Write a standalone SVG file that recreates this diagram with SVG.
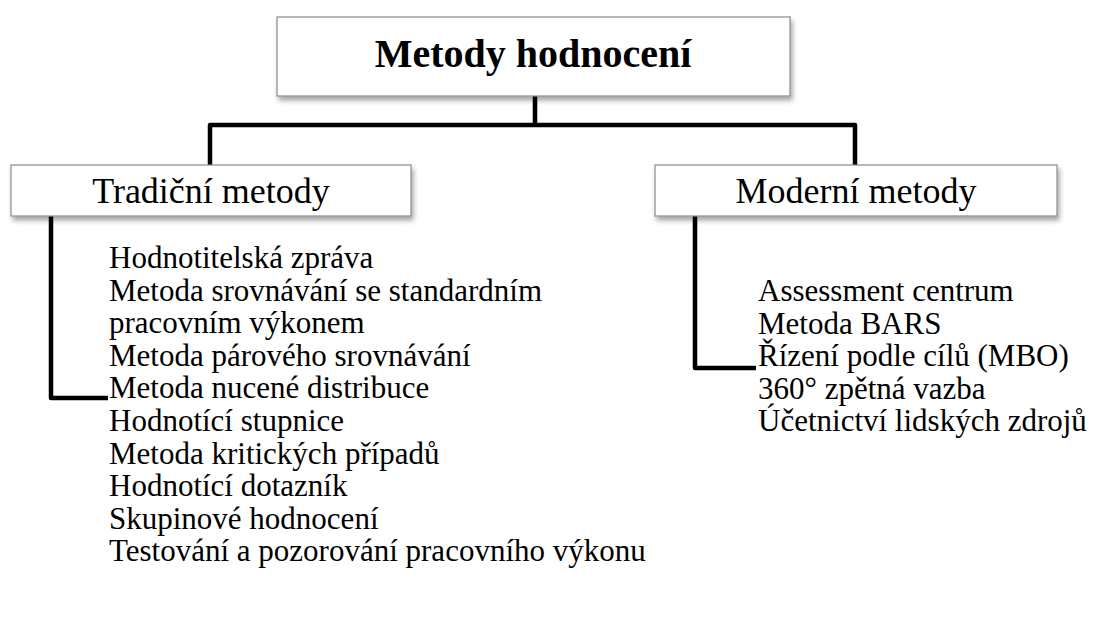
<svg xmlns="http://www.w3.org/2000/svg" width="1099" height="633" viewBox="0 0 1099 633">
  <defs>
    <filter id="shadow" x="-5%" y="-20%" width="115%" height="160%">
      <feDropShadow dx="2" dy="4" stdDeviation="2.5" flood-color="#000" flood-opacity="0.35"/>
    </filter>
    <style>
      .box { fill: #fff; stroke: #8a8a8a; stroke-width: 1.2; filter: url(#shadow); }
      .title { font-family: "Liberation Serif", "Times New Roman", serif; font-weight: bold; font-size: 40px; fill: #000; text-anchor: middle; }
      .head { font-family: "Liberation Serif", "Times New Roman", serif; font-size: 36px; fill: #000; text-anchor: middle; }
      .item { font-family: "Liberation Serif", "Times New Roman", serif; font-size: 31px; fill: #000; }
      .link { fill: none; stroke: #000; stroke-width: 4.5; stroke-linejoin: round; stroke-linecap: butt; }
    </style>
  </defs>

  <rect width="1099" height="633" fill="#fff"/>

  <!-- connectors -->
  <g id="connectors">
    <path class="link" d="M535 96 V125"/>
    <path class="link" d="M210 165 V125 H855 V165"/>
    <path class="link" d="M51 216 V398 H108"/>
    <path class="link" d="M695 216 V368 H756"/>
  </g>

  <!-- root -->
  <g id="root">
    <rect class="box" x="277" y="17" width="513" height="79"/>
    <text class="title" x="533" y="67">Metody hodnocení</text>
  </g>

  <!-- traditional methods -->
  <g id="traditional">
    <rect class="box" x="11" y="165" width="400" height="51"/>
    <text class="head" x="211" y="203">Tradiční metody</text>
  </g>
  <g id="traditional-list" class="item">
    <text x="109" y="268">Hodnotitelská zpráva</text>
    <text x="109" y="300.6">Metoda srovnávání se standardním</text>
    <text x="109" y="333.2">pracovním výkonem</text>
    <text x="109" y="365.8">Metoda párového srovnávání</text>
    <text x="109" y="398.4">Metoda nucené distribuce</text>
    <text x="109" y="431">Hodnotící stupnice</text>
    <text x="109" y="463.6">Metoda kritických případů</text>
    <text x="109" y="496.2">Hodnotící dotazník</text>
    <text x="109" y="528.8">Skupinové hodnocení</text>
    <text x="109" y="561.4">Testování a pozorování pracovního výkonu</text>
  </g>

  <!-- modern methods -->
  <g id="modern">
    <rect class="box" x="655" y="165" width="402" height="51"/>
    <text class="head" x="856" y="203">Moderní metody</text>
  </g>
  <g id="modern-list" class="item">
    <text x="758" y="301">Assessment centrum</text>
    <text x="758" y="333.6">Metoda BARS</text>
    <text x="758" y="366.2">Řízení podle cílů (MBO)</text>
    <text x="758" y="398.8">360° zpětná vazba</text>
    <text x="758" y="431.4">Účetnictví lidských zdrojů</text>
  </g>
</svg>
